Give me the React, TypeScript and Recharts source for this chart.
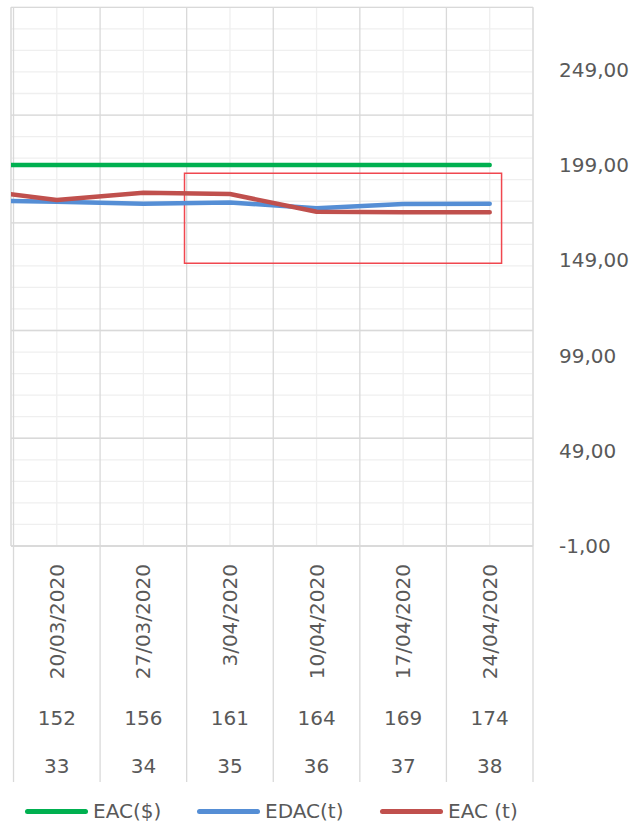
import React from 'react';
import {
  LineChart,
  Line,
  XAxis,
  YAxis,
  CartesianGrid,
  ReferenceArea,
  Legend,
} from 'recharts';

// Category rows of the multi-level axis
const weekDates = ['20/03/2020', '27/03/2020', '3/04/2020', '10/04/2020', '17/04/2020', '24/04/2020'];
const dayNumbers = [152, 156, 161, 164, 169, 174];
const weekNumbers = [33, 34, 35, 36, 37, 38];

// Series values; the first entry is the preceding week, which runs off the left edge
const pointIndex = [-1, 0, 1, 2, 3, 4, 5];
const eacCost = [199, 199, 199, 199, 199, 199, 199];
const edacTime = [180.4, 179.7, 178.6, 179.3, 176.2, 178.5, 178.6];
const eacTime = [186.2, 180.6, 184.4, 183.7, 174.4, 174.2, 174.2];

const seriesNames = ['EAC($)', 'EDAC(t)', 'EAC (t)'];

// Value axis ticks and highlighted window
const valueTicks = [-1, 49, 99, 149, 199, 249];
const valueDomain = [-1, 281.7];
const highlight = { x1: 1.475, x2: 5.137, y1: 147.4, y2: 194.6 };

const data = pointIndex.map((idx, i) => ({
  idx,
  eacCost: eacCost[i],
  edacTime: edacTime[i],
  eacTime: eacTime[i],
}));

const xDomain = [-0.529, 5.5];
const categoryTicks = [-0.5, 0, 0.5, 1, 1.5, 2, 2.5, 3, 3.5, 4, 4.5, 5, 5.5];
const minorXTicks = [0, 1, 2, 3, 4, 5];
const majorXTicks = [-0.5, 0.5, 1.5, 2.5, 3.5, 4.5, 5.5];
// Gridline rows: 25 minor divisions, every 5th one major
const gridDivisions = 25;
const majorEvery = 5;

const TEXT = '#595959';
const GRID_MAJOR = '#D9D9D9';
const GRID_MINOR = '#EFEFEF';

const rowsGenerator = (step: number) => ({ offset }: any) => {
  const out: number[] = [];
  for (let k = 0; k <= gridDivisions; k += step) {
    out.push(offset.top + (offset.height * k) / gridDivisions);
  }
  return out;
};

const CategoryTick = (props: any) => {
  const { x, y, payload } = props;
  const v = payload.value as number;
  if (!Number.isInteger(v)) {
    return <line x1={x} x2={x} y1={y} y2={y + 236} stroke={GRID_MAJOR} strokeWidth={1.3} />;
  }
  const dateY = y + 18;
  return (
    <g fill={TEXT} fontSize={20}>
      <text
        x={x}
        y={dateY}
        transform={`rotate(-90, ${x}, ${dateY})`}
        textAnchor="end"
        dominantBaseline="central"
      >
        {weekDates[v]}
      </text>
      <text x={x} y={y + 172} textAnchor="middle" dominantBaseline="central">
        {dayNumbers[v]}
      </text>
      <text x={x} y={y + 220} textAnchor="middle" dominantBaseline="central">
        {weekNumbers[v]}
      </text>
    </g>
  );
};

const legendWidths = [172, 183, 160];

const LegendContent = (props: any) => {
  const payload = [...(props.payload || [])].sort(
    (a: any, b: any) => seriesNames.indexOf(a.value) - seriesNames.indexOf(b.value)
  );
  return (
    <div
      style={{
        display: 'flex',
        alignItems: 'center',
        height: 48,
        boxSizing: 'border-box',
        paddingTop: 10,
        paddingLeft: 25,
        fontSize: 20,
        color: TEXT,
      }}
    >
      {payload.map((entry: any, i: number) => (
        <div key={entry.value} style={{ display: 'flex', alignItems: 'center', width: legendWidths[i] }}>
          <span
            style={{
              display: 'inline-block',
              width: 63,
              height: 5,
              borderRadius: 2.5,
              background: entry.color,
              marginRight: 5,
            }}
          />
          <span>{entry.value}</span>
        </div>
      ))}
    </div>
  );
};

export default function App() {
  return (
    <div style={{ position: 'absolute', left: 0, top: 0, fontFamily: 'DejaVu Sans', background: '#fff' }}>
      <LineChart width={642} height={830} data={data} margin={{ top: 7.3, right: 0, bottom: 0, left: 11 }}>
        <XAxis xAxisId="gridMinor" type="number" dataKey="idx" hide domain={xDomain} ticks={minorXTicks} allowDataOverflow />
        <XAxis xAxisId="gridMajor" type="number" dataKey="idx" hide domain={xDomain} ticks={majorXTicks} allowDataOverflow />
        <CartesianGrid
          xAxisId="gridMinor"
          yAxisId="val"
          stroke={GRID_MINOR}
          strokeWidth={1.3}
          horizontalCoordinatesGenerator={rowsGenerator(1)}
        />
        <CartesianGrid
          xAxisId="gridMajor"
          yAxisId="val"
          stroke={GRID_MAJOR}
          strokeWidth={1.3}
          horizontalCoordinatesGenerator={rowsGenerator(majorEvery)}
        />
        <XAxis
          xAxisId="cat"
          type="number"
          dataKey="idx"
          domain={xDomain}
          ticks={categoryTicks}
          interval={0}
          allowDataOverflow
          height={236}
          tickSize={0}
          tickMargin={0}
          tickLine={false}
          axisLine={{ stroke: GRID_MAJOR, strokeWidth: 1.3 }}
          tick={<CategoryTick />}
        />
        <YAxis
          yAxisId="val"
          orientation="right"
          type="number"
          domain={valueDomain}
          ticks={valueTicks}
          allowDataOverflow
          width={109}
          axisLine={false}
          tickLine={false}
          tickSize={0}
          tickMargin={26}
          tick={{ fill: TEXT, fontSize: 20, textAnchor: 'start' }}
          tickFormatter={(v: number) => v.toFixed(2).replace('.', ',')}
        />
        <Line
          xAxisId="cat"
          yAxisId="val"
          name={seriesNames[0]}
          dataKey="eacCost"
          stroke="#00B050"
          strokeWidth={4.5}
          strokeLinecap="round"
          strokeLinejoin="round"
          dot={false}
          activeDot={false}
          isAnimationActive={false}
        />
        <Line
          xAxisId="cat"
          yAxisId="val"
          name={seriesNames[1]}
          dataKey="edacTime"
          stroke="#558ED5"
          strokeWidth={4.5}
          strokeLinecap="round"
          strokeLinejoin="round"
          dot={false}
          activeDot={false}
          isAnimationActive={false}
        />
        <Line
          xAxisId="cat"
          yAxisId="val"
          name={seriesNames[2]}
          dataKey="eacTime"
          stroke="#C0504D"
          strokeWidth={4.5}
          strokeLinecap="round"
          strokeLinejoin="round"
          dot={false}
          activeDot={false}
          isAnimationActive={false}
        />
        <ReferenceArea
          xAxisId="cat"
          yAxisId="val"
          x1={highlight.x1}
          x2={highlight.x2}
          y1={highlight.y1}
          y2={highlight.y2}
          fill="none"
          fillOpacity={0}
          stroke="#F0474F"
          strokeWidth={1.5}
          ifOverflow="visible"
        />
        <Legend
          verticalAlign="bottom"
          height={48}
          wrapperStyle={{ left: 0, bottom: 0, width: 642 }}
          content={<LegendContent />}
        />
      </LineChart>
    </div>
  );
}
